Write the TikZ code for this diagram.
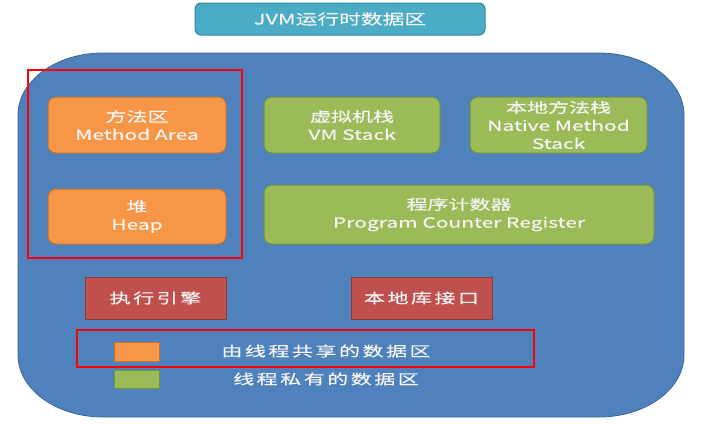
\documentclass[tikz,border=0pt]{standalone}
\usepackage{fontspec}
\setmainfont{Noto Sans CJK SC}[FakeStretch=1.5, FakeBold=0.4]
\newfontfamily\spacedfont{Noto Sans CJK SC}[FakeStretch=1.5, FakeBold=0.4, LetterSpace=18]
\definecolor{bgblue}{HTML}{4F81BD}
\definecolor{bgblueline}{HTML}{3C6699}
\definecolor{orfill}{HTML}{F79646}
\definecolor{orline}{HTML}{C77330}
\definecolor{grfill}{HTML}{9BBB59}
\definecolor{grline}{HTML}{76933C}
\definecolor{rdfill}{HTML}{C0504D}
\definecolor{rdline}{HTML}{8E3B38}
\definecolor{tlfill}{HTML}{4BACC6}
\definecolor{tlline}{HTML}{35869C}
\definecolor{txt}{HTML}{F4F4F4}
\tikzset{
  area/.style={rectangle, rounded corners=8pt, line width=1pt, text=txt, align=center,
    inner sep=0pt, font=\fontsize{14}{18}\selectfont},
  shared/.style={area, fill=orfill, draw=orline},
  private/.style={area, fill=grfill, draw=grline},
  engine/.style={rectangle, fill=rdfill, draw=rdline, line width=1pt, text=txt,
    inner sep=0pt, minimum width=141pt, minimum height=42pt, font=\spacedfont\fontsize{14}{18}\selectfont},
  mark box/.style={draw=red, line width=2pt},
  legendbox/.style={rectangle, inner sep=0pt, line width=1pt, minimum width=45pt},
  legendtext/.style={text=txt, inner sep=0pt, font=\spacedfont\fontsize{14}{18}\selectfont},
}
\begin{document}
\begin{tikzpicture}[x=1pt,y=-1pt]
\useasboundingbox (0,0) rectangle (702,424);
% title
\node[rectangle, rounded corners=6pt, fill=tlfill, draw=tlline, line width=1pt, text=txt,
  minimum width=290pt, minimum height=32pt, inner sep=0pt, font=\fontsize{14.5}{18}\selectfont]
  (title) at (340,19) {JVM运行时数据区};
% big area
\draw[fill=bgblue, draw=bgblueline, line width=0.8pt]
  (18,115) .. controls (18,80.8) and (56.1,53) .. (103,53)
  -- (599,53) .. controls (645.9,53) and (684,80.8) .. (684,115)
  -- (684,355) .. controls (684,389.2) and (645.9,417) .. (599,417)
  -- (103,417) .. controls (56.1,417) and (18,389.2) .. (18,355) -- cycle;
% data areas
\node[shared, minimum width=178pt, minimum height=56pt] (method) at (137,125) {方法区\\Method Area};
\node[private, minimum width=176pt, minimum height=56pt] (vmstack) at (352,125) {虚拟机栈\\VM Stack};
\node[private, minimum width=177pt, minimum height=56pt] (native) at (558.5,125) {本地方法栈\\Native Method\\Stack};
\node[shared, minimum width=178pt, minimum height=55pt] (heap) at (137,216.5) {堆\\Heap};
\node[private, minimum width=390pt, minimum height=59pt] (pc) at (459,214.5) {程序计数器\\Program Counter Register};
% engine and interface
\node[engine] (exec) at (155.5,298) {执行引擎};
\node[engine] (jni) at (421.5,298) {本地库接口};
% legend
\node[legendbox, fill=orfill, draw=orline, minimum height=19pt] (legor) at (136.5,351.5) {};
\node[legendbox, fill=grfill, draw=grline, minimum height=18pt] (leggr) at (136.5,379) {};
\node[legendtext] (legortext) at (326,351) {由线程共享的数据区};
\node[legendtext] (leggrtext) at (326,379) {线程私有的数据区};
% red marks
\draw[mark box] (28,70) rectangle (242,258);
\draw[mark box] (77,330) rectangle (534,367);
\end{tikzpicture}
\end{document}
